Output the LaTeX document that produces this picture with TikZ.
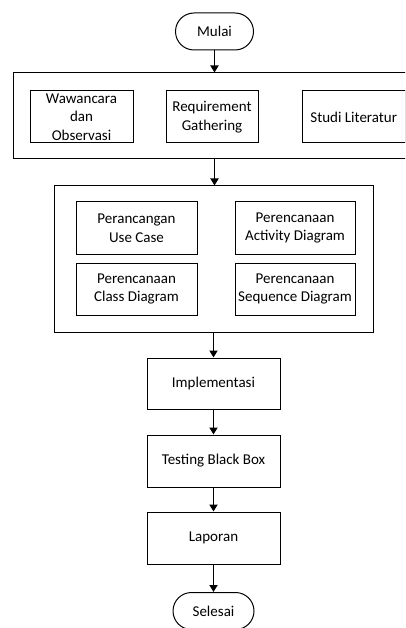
\documentclass[tikz,border=0pt]{standalone}
\usepackage{fontspec}
\setmainfont{Carlito}
\usetikzlibrary{arrows.meta}
\begin{document}
\begin{tikzpicture}[x=1pt,y=-1pt,
  every node/.style={font=\fontsize{15}{18.5}\selectfont, align=center, inner sep=0pt},
  box/.style={draw, line width=1pt, minimum width=#1},
  box/.default=100pt,
  terminal/.style={draw, line width=1pt, rounded corners=18.5pt,
    minimum width=78pt, minimum height=37pt},
  flow/.style={line width=1.8pt, -{Triangle[length=7pt,width=8pt]}}
]
\clip (0,0) rectangle (405,628);
\fill[white] (0,0) rectangle (405,628);

% start
\node[terminal] (mulai) at (214.5,31.5) {Mulai};

% data collection group
\node[box=412pt, minimum height=86pt] (kumpul) at (219,116) {};
\node[box=103pt, minimum height=52pt] (wawancara) at (81.5,117) {Wawancara\\dan\\Observasi};
\node[box=92pt, minimum height=52pt] (requirement) at (212,117) {Requirement\\Gathering};
\node[box=103.5pt, minimum height=52pt] (studi) at (353.75,117) {Studi Literatur};

% design group
\node[box=319pt, minimum height=146pt] (rancang) at (213.5,259) {};
\node[box=121pt, minimum height=52pt] (usecase) at (136.5,228) {Perancangan\\Use Case};
\node[box=120pt, minimum height=52pt] (activity) at (295,228) {Perencanaan\\Activity Diagram};
\node[box=121pt, minimum height=52pt] (class) at (136.5,289) {Perencanaan\\Class Diagram};
\node[box=120pt, minimum height=52pt] (sequence) at (295,289) {Perencanaan\\Sequence Diagram};

% remaining stages
\node[box=133pt, minimum height=51pt] (impl) at (213.5,383.5) {Implementasi};
\node[box=133pt, minimum height=52pt] (testing) at (213.5,461) {Testing Black Box};
\node[box=133pt, minimum height=52pt] (laporan) at (213.5,538) {Laporan};

% end
\node[terminal, minimum width=81pt] (selesai) at (213.5,611) {Selesai};

% connectors
\draw[flow] (mulai.south) -- (mulai.south |- kumpul.north);
\draw[flow] (mulai.south |- kumpul.south) -- (mulai.south |- rancang.north);
\draw[flow] (rancang.south) -- (impl.north);
\draw[flow] (impl.south) -- (testing.north);
\draw[flow] (testing.south) -- (laporan.north);
\draw[flow] (laporan.south) -- (selesai.north);
\end{tikzpicture}
\end{document}
